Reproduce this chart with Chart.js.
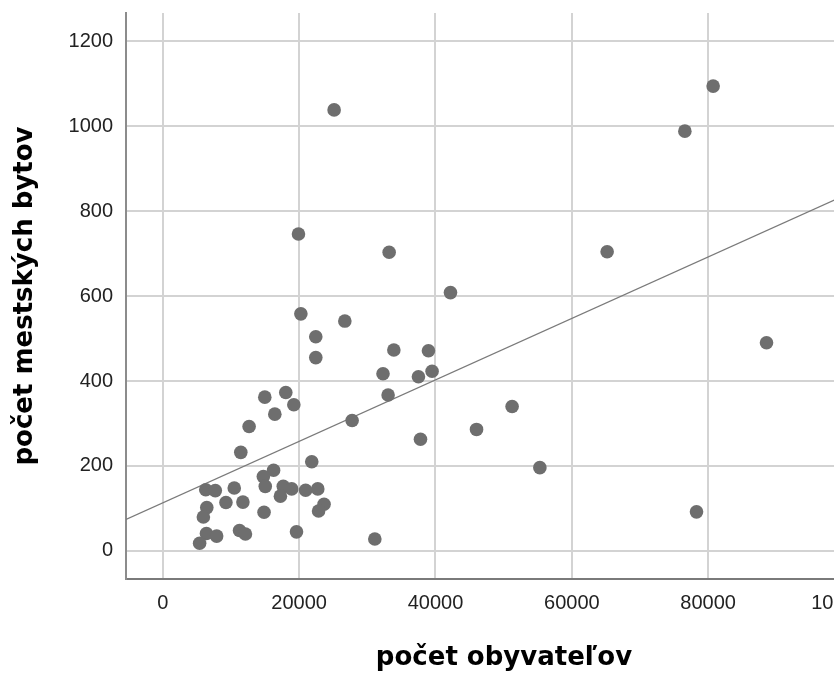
<!DOCTYPE html>
<html lang="sk">
<head>
<meta charset="utf-8">
<title>počet mestských bytov / počet obyvateľov</title>
<script src="https://cdn.jsdelivr.net/npm/chart.js@4.4.1/dist/chart.umd.min.js"></script>
<style>
    html, body { margin: 0; padding: 0; background: #fff; overflow: hidden; }
    #wrap { width: 834px; height: 675px; overflow: hidden; }
    #scatterChart { display: block; }
</style>
</head>
<body>
<div id="wrap"><canvas id="scatterChart" width="890" height="675"></canvas></div>
<script>
// --- data ---
var obyvatelia = [
    25130, 19900, 33200, 42200, 20250, 26700, 22440, 22440, 33890, 38970,
    32300, 37500, 39500, 33050, 37800, 27770, 31100, 14960, 18040, 19220,
    16430, 12660, 11440, 21850, 16250, 14750, 15030, 6300, 7700, 10480,
    17670, 18900, 20950, 22730, 17250, 9260, 11750, 23650, 22850, 6450,
    5950, 14850, 19610, 11250, 12120, 6400, 7900, 5400, 80730, 76580,
    65180, 88560, 51240, 46020, 55310, 78290
];
var mestskeByty = [
    1038, 746, 703, 608, 558, 541, 504, 455, 473, 471,
    417, 410, 423, 367, 263, 307, 28, 362, 373, 344,
    322, 293, 232, 210, 190, 175, 152, 144, 142, 148,
    152, 146, 143, 146, 129, 114, 115, 110, 94, 102,
    80, 91, 45, 48, 40, 41, 35, 18, 1094, 988,
    704, 490, 340, 286, 196, 92
];
var xTickValues = [0, 20000, 40000, 60000, 80000, 100000];
var yTickValues = [0, 200, 400, 600, 800, 1000, 1200];
var xRange = [-5400, 105500];
var yRange = [-66, 1266];

document.addEventListener("DOMContentLoaded", function () {

    var points = obyvatelia.map(function (x, i) { return { x: x, y: mestskeByty[i] }; });

    // least squares fit line (SPSS "fit line at total")
    var n = points.length, mx = 0, my = 0;
    points.forEach(function (p) { mx += p.x; my += p.y; });
    mx /= n; my /= n;
    var sxy = 0, sxx = 0;
    points.forEach(function (p) { sxy += (p.x - mx) * (p.y - my); sxx += (p.x - mx) * (p.x - mx); });
    var slope = sxy / sxx;
    var intercept = my - slope * mx;
    var fitLine = xRange.map(function (x) { return { x: x, y: intercept + slope * x }; });

    var tickFont = { family: "'Liberation Sans', Arial, sans-serif", size: 20 };
    var titleFont = { family: "'DejaVu Sans', sans-serif", size: 26, weight: 'bold' };

    new Chart(document.getElementById('scatterChart').getContext('2d'), {
        type: 'scatter',
        data: {
            datasets: [{
                label: 'počet mestských bytov',
                data: points,
                backgroundColor: '#6e6e6e',
                borderWidth: 0,
                pointRadius: 6.8,
                pointHoverRadius: 6.8
            }, {
                label: 'lineárna regresia',
                data: fitLine,
                showLine: true,
                pointRadius: 0,
                borderColor: '#7a7a7a',
                borderWidth: 1.3,
                fill: false
            }]
        },
        options: {
            responsive: false,
            animation: false,
            events: [],
            layout: { padding: { top: 13, right: 8, left: 0, bottom: 0 } },
            plugins: { legend: { display: false }, tooltip: { enabled: false } },
            scales: {
                x: {
                    type: 'linear',
                    min: xRange[0],
                    max: xRange[1],
                    afterBuildTicks: function (scale) {
                        scale.ticks = xTickValues.map(function (v) { return { value: v }; });
                    },
                    afterFit: function (scale) {
                        scale.height = 96;
                        scale.paddingLeft = 0;
                        scale.paddingRight = 0;
                    },
                    grid: { color: '#d3d3d3', lineWidth: 2, drawTicks: false },
                    border: { color: '#7a7a7a', width: 2 },
                    ticks: {
                        padding: 12, color: '#222', font: tickFont, maxRotation: 0,
                        callback: function (v) { return String(v); }
                    },
                    title: {
                        display: true, text: 'počet obyvateľov', color: '#000',
                        font: titleFont, padding: { top: 0, bottom: 1 }
                    }
                },
                y: {
                    type: 'linear',
                    min: yRange[0],
                    max: yRange[1],
                    afterBuildTicks: function (scale) {
                        scale.ticks = yTickValues.map(function (v) { return { value: v }; });
                    },
                    afterFit: function (scale) {
                        scale.width = 126;
                        scale.paddingTop = 0;
                        scale.paddingBottom = 0;
                    },
                    grid: { color: '#d3d3d3', lineWidth: 2, drawTicks: false },
                    border: { color: '#8c8c8c', width: 2 },
                    ticks: {
                        padding: 13, color: '#222', font: tickFont,
                        callback: function (v) { return String(v); }
                    },
                    title: {
                        display: true, text: 'počet mestských bytov', color: '#000',
                        font: titleFont, padding: { top: 10, bottom: 0 }
                    }
                }
            }
        }
    });
});
</script>
</body>
</html>
